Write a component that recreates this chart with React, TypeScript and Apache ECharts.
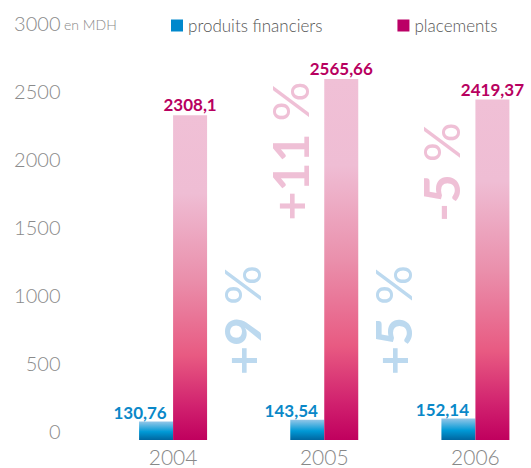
import React, { useEffect, useRef } from "react";
import * as echarts from "echarts";

const years = ["2004", "2005", "2006"];
const produitsFinanciers = [130.76, 143.54, 152.14];
const placements = [2308.1, 2565.66, 2419.37];
const yTicks = [0, 500, 1000, 1500, 2000, 2500, 3000];
const growthPF = ["+9", "+5"];
const growthPl = ["+11", "-5"];

const fmt = (v: number) => String(v).replace(".", ",");

export default function App() {
  const ref = useRef<HTMLDivElement>(null);
  useEffect(() => {
    if (!ref.current) return;
    const chart = echarts.init(ref.current, null, { renderer: "svg" });
    const font = "Lato, 'Noto Sans', sans-serif";
    const blueGrad = new echarts.graphic.LinearGradient(0, 0, 0, 1, [
      { offset: 0, color: "#92c6e8" },
      { offset: 0.55, color: "#0099d6" },
      { offset: 1, color: "#0066a0" },
    ]);
    const pinkGrad = new echarts.graphic.LinearGradient(0, 0, 0, 1, [
      { offset: 0, color: "#f0c0d6" },
      { offset: 0.24, color: "#efbdd4" },
      { offset: 0.5, color: "#ea90ac" },
      { offset: 0.74, color: "#e85a82" },
      { offset: 0.9, color: "#d0206e" },
      { offset: 1, color: "#c0005e" },
    ]);
    const pctText = (t: string, x: number, y: number, color: string) => ({
      type: "text",
      x,
      y,
      rotation: Math.PI / 2,
      style: {
        text: `{n|${t}}{s| }{p|%}`,
        fill: color,
        align: "center",
        verticalAlign: "middle",
        rich: {
          n: { fontSize: 50, fontWeight: "bold", fontFamily: font, fill: color },
          s: { fontSize: 50, fontFamily: font, width: 12 },
          p: { fontSize: 50, fontWeight: "normal", fontFamily: font, fill: color },
        },
      },
    });
    chart.setOption({
      animation: false,
      legend: {
        left: 171,
        top: 17,
        padding: 0,
        itemWidth: 12,
        itemHeight: 12,
        itemGap: 75,
        icon: "rect",
        textStyle: { fontSize: 17, color: "#555", fontFamily: font, fontWeight: 300 },
        data: [
          { name: "produits financiers", itemStyle: { color: "#0088cc" } },
          { name: "placements", itemStyle: { color: "#bb0066" } },
        ],
      },
      grid: { left: 97.5, right: 0, top: 31.7, bottom: 28 },
      xAxis: {
        type: "category",
        data: years,
        axisLine: { show: false },
        axisTick: { show: false },
        axisLabel: { fontSize: 21, color: "#888", fontFamily: font, fontWeight: 300, margin: 6 },
      },
      yAxis: [
        {
          type: "value",
          min: 0,
          max: 2902,
          show: false,
          splitLine: { show: false },
        },
        {
          type: "value",
          min: 0,
          max: yTicks[yTicks.length - 1],
          interval: 500,
          position: "left",
          axisLine: { show: false },
          axisTick: { show: false },
          splitLine: { show: false },
          axisLabel: {
            fontSize: 20,
            color: "#8a8a8a",
            fontFamily: font,
            fontWeight: 300,
            margin: 37,
            verticalAlign: "bottom",
            lineHeight: 18,
            formatter: (v: number) => String(v),
          },
        },
      ],
      series: [
        {
          name: "produits financiers",
          type: "bar",
          yAxisIndex: 0,
          data: produitsFinanciers,
          barWidth: 34,
          barGap: "0%",
          itemStyle: { color: blueGrad },
          label: {
            show: true,
            position: "top",
            distance: 1,
            offset: [-16, 0],
            formatter: (p: any) => fmt(p.value),
            fontSize: 17,
            fontWeight: "bold",
            fontFamily: font,
            color: "#0a88c8",
          },
        },
        {
          name: "placements",
          type: "bar",
          yAxisIndex: 0,
          data: placements,
          barWidth: 34,
          barGap: "0%",
          itemStyle: { color: pinkGrad },
          label: {
            show: true,
            position: "top",
            distance: 2,
            formatter: (p: any) => fmt(p.value),
            fontSize: 17,
            fontWeight: "bold",
            fontFamily: font,
            color: "#b8005f",
          },
        },
      ],
      graphic: [
        {
          type: "text",
          x: 64,
          y: 24,
          style: {
            text: "en MDH",
            fontSize: 14,
            fontFamily: font,
            fontWeight: 300,
            fill: "#888",
            verticalAlign: "middle",
          },
        },
        pctText(growthPF[0], 242, 320, "#bcd9ef"),
        pctText(growthPl[0], 290, 151, "#efc0d6"),
        pctText(growthPF[1], 393, 320, "#bcd9ef"),
        pctText(growthPl[1], 441, 172, "#efc0d6"),
      ],
    });
    return () => chart.dispose();
  }, []);
  return (
    <div
      style={{
        position: "absolute",
        left: 0,
        top: 0,
        width: 531,
        height: 468,
        overflow: "hidden",
      }}
    >
      <div ref={ref} style={{ width: 550.5, height: 468 }} />
    </div>
  );
}
